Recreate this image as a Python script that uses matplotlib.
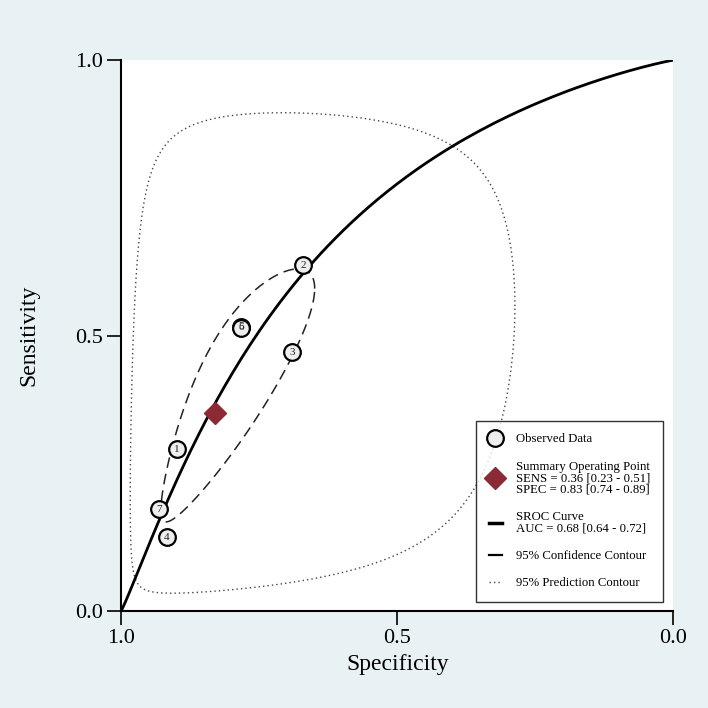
import numpy as np
import matplotlib.pyplot as plt
from matplotlib.lines import Line2D

# --- Data ---
study_ids = ["1", "2", "3", "4", "5", "6", "7"]
study_spec = [0.899, 0.670, 0.690, 0.917, 0.782, 0.783, 0.931]
study_sens = [0.294, 0.628, 0.470, 0.134, 0.516, 0.514, 0.185]

summary_sens = 0.36
summary_spec = 0.83

# SROC curve: logit(sens) = sroc_a + sroc_b * logit(1 - spec)
sroc_a = 1.24
sroc_b = 1.10

# confidence / prediction contours (logit scale: fpr, sens)
conf_se = (0.396, 0.437)
conf_r = 0.86
pred_se = (1.02, 1.154)
pred_r = 0.28
chi2_95 = 5.991

legend_labels = [
    "Observed Data",
    "Summary Operating Point\nSENS = 0.36 [0.23 - 0.51]\nSPEC = 0.83 [0.74 - 0.89]",
    "SROC Curve\nAUC = 0.68 [0.64 - 0.72]",
    "95% Confidence Contour",
    "95% Prediction Contour",
]


def logit(p):
    return np.log(p / (1 - p))


def invlogit(x):
    return 1 / (1 + np.exp(-x))


def contour(se, r):
    t = np.linspace(0, 2 * np.pi, 500)
    cov = np.array([[se[0] ** 2, r * se[0] * se[1]],
                    [r * se[0] * se[1], se[1] ** 2]])
    L = np.linalg.cholesky(cov)
    xy = L @ np.vstack([np.cos(t), np.sin(t)]) * np.sqrt(chi2_95)
    lf = logit(1 - summary_spec) + xy[0]
    ls = logit(summary_sens) + xy[1]
    return 1 - invlogit(lf), invlogit(ls)


plt.rcParams["font.family"] = ["Liberation Serif", "DejaVu Serif"]

fig = plt.figure(figsize=(7.08, 7.08), dpi=100)
fig.patch.set_facecolor("#e8f1f4")
ax = fig.add_axes([0.171, 0.137, 0.780, 0.778])
ax.set_facecolor("white")

# prediction contour
px, py = contour(pred_se, pred_r)
ax.plot(px, py, color="#444444", lw=1.0, linestyle=(0, (1, 2.2)))

# confidence contour
cx, cy = contour(conf_se, conf_r)
ax.plot(cx, cy, color="#222222", lw=1.1, linestyle=(0, (7, 4)))

# SROC curve
fpr = np.concatenate([[0], np.geomspace(1e-5, 0.5, 300), 1 - np.geomspace(0.5, 1e-5, 300)[1:], [1]])
sens_curve = invlogit(sroc_a + sroc_b * logit(np.clip(fpr, 1e-12, 1 - 1e-12)))
ax.plot(1 - fpr, sens_curve, color="black", lw=2.0)

# observed studies
ax.plot(study_spec, study_sens, linestyle="none", marker="o", markersize=12,
        markerfacecolor="#eeeeee", markeredgecolor="black", markeredgewidth=1.6)
for sid, sx, sy in zip(study_ids, study_spec, study_sens):
    ax.text(sx, sy, sid, ha="center", va="center", fontsize=8, color="#222222")

# summary point
ax.plot([summary_spec], [summary_sens], linestyle="none", marker="D", markersize=11,
        color="#8b2a35")

ax.set_xlim(1.0, 0.0)
ax.set_ylim(0.0, 1.0)
ax.set_xticks([1.0, 0.5, 0.0])
ax.set_yticks([0.0, 0.5, 1.0])
ax.set_xticklabels(["1.0", "0.5", "0.0"])
ax.set_yticklabels(["0.0", "0.5", "1.0"])
ax.tick_params(axis="both", direction="out", length=10, width=1.2, labelsize=16, pad=3)
for s in ["top", "right"]:
    ax.spines[s].set_visible(False)
for s in ["left", "bottom"]:
    ax.spines[s].set_linewidth(1.5)
ax.set_xlabel("Specificity", fontsize=17, labelpad=4)
ax.set_ylabel("Sensitivity", fontsize=17, labelpad=26)

handles = [
    Line2D([], [], linestyle="none", marker="o", markersize=12,
           markerfacecolor="#eeeeee", markeredgecolor="black", markeredgewidth=1.6),
    Line2D([], [], linestyle="none", marker="D", markersize=11, color="#8b2a35"),
    Line2D([], [], color="black", lw=2.5),
    Line2D([], [], color="black", lw=1.6),
    Line2D([], [], color="#444444", lw=1.0, linestyle=(0, (1, 2.2))),
]
leg = ax.legend(handles, legend_labels, loc="lower right", bbox_to_anchor=(0.982, 0.016),
                fontsize=9.2, frameon=True, fancybox=False, handlelength=1.0,
                labelspacing=1.2, borderpad=1.0, handletextpad=1.15, borderaxespad=0)
for t in leg.get_texts():
    t.set_linespacing(0.95)
leg.get_frame().set_edgecolor("black")
leg.get_frame().set_linewidth(1.0)

fig.savefig("out.png", dpi=100, facecolor=fig.get_facecolor())
